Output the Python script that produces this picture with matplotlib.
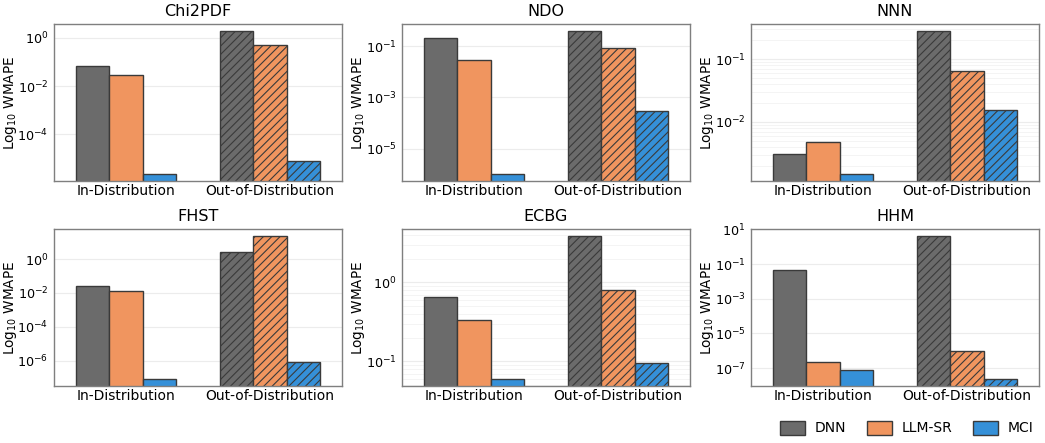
import numpy as np
import matplotlib
matplotlib.use("Agg")
import matplotlib.pyplot as plt
from matplotlib.patches import Patch
from matplotlib.ticker import FixedLocator, NullFormatter, NullLocator

# Dados (WMAPE, escala log)
TASKS = ["Chi2PDF", "NDO", "NNN", "FHST", "ECBG", "HHM"]
GROUPS = ["In-Distribution", "Out-of-Distribution"]
METHODS = ["DNN", "LLM-SR", "MCI"]

DNN = {
    "Chi2PDF": [0.066, 1.9],
    "NDO": [0.21, 0.38],
    "NNN": [0.00305, 0.28],
    "FHST": [0.026, 2.6],
    "ECBG": [0.65, 3.87],
    "HHM": [0.045, 4.1],
}
LLM_SR = {
    "Chi2PDF": [0.028, 0.49],
    "NDO": [0.028, 0.083],
    "NNN": [0.0048, 0.064],
    "FHST": [0.0128, 23.0],
    "ECBG": [0.33, 0.81],
    "HHM": [2.3e-7, 1.0e-6],
}
MCI = {
    "Chi2PDF": [2.3e-6, 7.9e-6],
    "NDO": [1.07e-6, 3.1e-4],
    "NNN": [0.00148, 0.0156],
    "FHST": [8.3e-8, 8.7e-7],
    "ECBG": [0.06, 0.095],
    "HHM": [7.7e-8, 2.4e-8],
}

# expoentes dos ticks principais mostrados em cada painel
TICK_EXPS = {
    "Chi2PDF": [0, -2, -4],
    "NDO": [-1, -3, -5],
    "NNN": [-1, -2],
    "FHST": [0, -2, -4, -6],
    "ECBG": [0, -1],
    "HHM": [1, -1, -3, -5, -7],
}

COLORS = {"DNN": "#6b6b6b", "LLM-SR": "#f0955f", "MCI": "#3590d8"}
EDGE = "#3a3a3a"
SPINE = "#7f7f7f"
GRID = "#ececec"

plt.rcParams["hatch.color"] = "#2b2b2b"
plt.rcParams["hatch.linewidth"] = 0.8

fig = plt.figure(figsize=(10.45, 4.43), dpi=100)
W, H = 1045, 443
lefts = [54, 402, 751]
tops = [24, 229]
aw, ah = 288, 157

series = {"DNN": DNN, "LLM-SR": LLM_SR, "MCI": MCI}
width = 0.23
x = np.arange(len(GROUPS))

for i, task in enumerate(TASKS):
    r, c = divmod(i, 3)
    ax = fig.add_axes([lefts[c] / W, 1 - (tops[r] + ah) / H, aw / W, ah / H])
    ax.set_yscale("log")
    allvals = []
    for j, m in enumerate(METHODS):
        vals = series[m][task]
        allvals += vals
        for k, v in enumerate(vals):
            ax.bar(
                x[k] + (j - 1) * width, v, width, bottom=1e-30,
                color=COLORS[m], edgecolor=EDGE, linewidth=1.0,
                hatch="////" if k == 1 else None, zorder=2,
            )
    lo, hi = np.log10(min(allvals)), np.log10(max(allvals))
    pad = 0.05 * (hi - lo)
    ax.set_ylim(10 ** (lo - pad), 10 ** (hi + pad))
    ax.yaxis.set_major_locator(FixedLocator([10.0 ** e for e in TICK_EXPS[task]]))
    ax.yaxis.set_minor_formatter(NullFormatter())
    if hi - lo > 3:
        ax.yaxis.set_minor_locator(NullLocator())
    ax.set_xlim(-0.5, 1.5)
    ax.set_xticks(x)
    ax.set_xticklabels(GROUPS, fontsize=10)
    ax.tick_params(axis="y", which="both", labelsize=9.2, length=0, pad=4)
    ax.tick_params(axis="x", length=0, pad=2)
    ax.grid(True, axis="y", which="major", color=GRID, linewidth=0.8, zorder=0)
    ax.grid(True, axis="y", which="minor", color="#f3f3f3", linewidth=0.6, zorder=0)
    ax.set_axisbelow(True)
    for s in ax.spines.values():
        s.set_color(SPINE)
        s.set_linewidth(1.0)
    ax.set_title(task, fontsize=11.5, pad=6)
    ax.set_ylabel("Log$_{10}$ WMAPE", fontsize=9.8)
    ax.yaxis.set_label_coords(-0.123, 0.5)

handles = [Patch(facecolor=COLORS[m], edgecolor=EDGE, linewidth=1.0) for m in METHODS]
fig.legend(handles, METHODS, loc="center right", bbox_to_anchor=(1039 / W, 1 - 428 / H),
           ncol=3, frameon=False, fontsize=10, handlelength=1.8, handleheight=1.2,
           columnspacing=1.5, handletextpad=0.7, borderaxespad=0)

fig.savefig("out.png", dpi=100)
